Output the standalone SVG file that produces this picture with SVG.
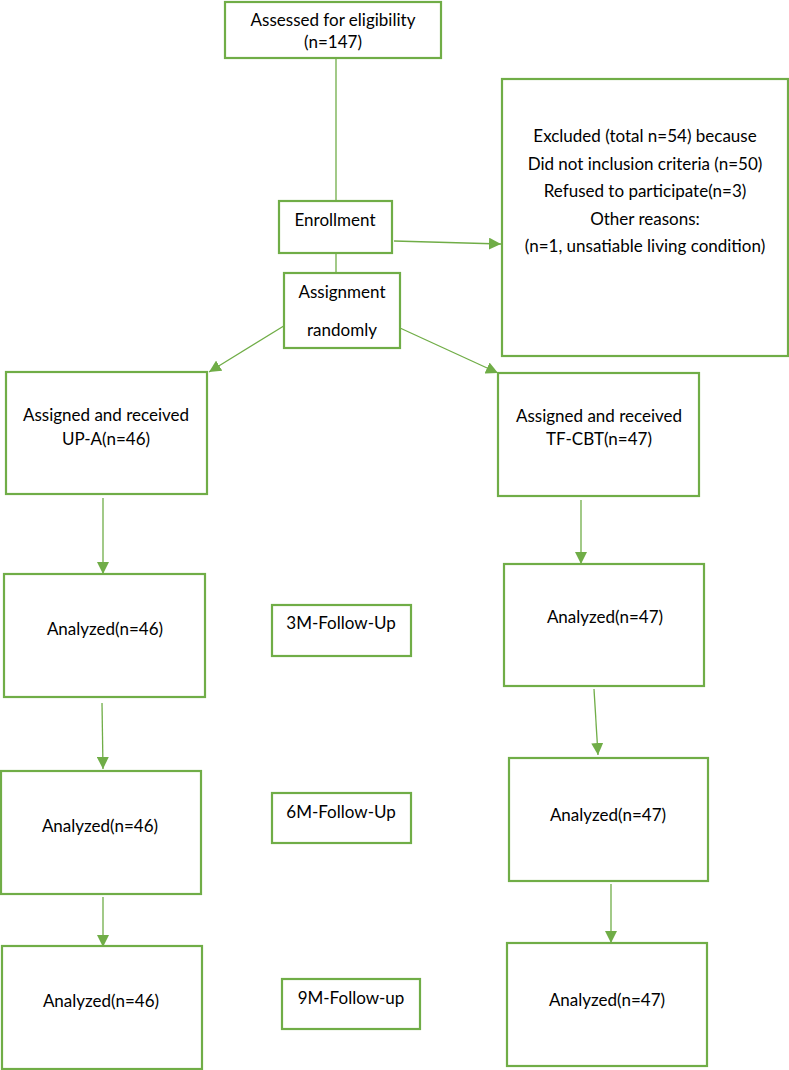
<svg xmlns="http://www.w3.org/2000/svg" width="789" height="1070" viewBox="0 0 789 1070">
<style>
.box{fill:#fff;stroke:#70AD47;stroke-width:2.2}
.t{font-family:Lato,"Liberation Sans",Arial,sans-serif;font-size:17px;fill:#000;text-anchor:middle}
.c{stroke:#70AD47;stroke-width:1.3;fill:none}
.a{marker-end:url(#ah)}
</style>
<defs>
<marker id="ah" markerUnits="userSpaceOnUse" markerWidth="12" markerHeight="12" viewBox="0 0 12 12" refX="12" refY="6" orient="auto">
<path d="M0,0 L12,6 L0,12 z" fill="#70AD47"/>
</marker>
</defs>
<rect width="789" height="1070" fill="#fff"/>
<g id="connectors">
<line class="c" x1="336" y1="58" x2="336" y2="201"/>
<line class="c" x1="336" y1="253" x2="336" y2="273"/>
<line class="c a" x1="394" y1="241" x2="501" y2="244"/>
<line class="c a" x1="287" y1="324" x2="209" y2="372"/>
<line class="c a" x1="400" y1="328" x2="498" y2="373"/>
<line class="c a" x1="103" y1="498" x2="103" y2="574"/>
<line class="c a" x1="102" y1="703" x2="103" y2="769"/>
<line class="c a" x1="103" y1="897" x2="103" y2="947"/>
<line class="c a" x1="581" y1="500" x2="581" y2="564"/>
<line class="c a" x1="594" y1="689" x2="598" y2="755"/>
<line class="c a" x1="611" y1="884" x2="611" y2="943"/>
</g>
<g id="assessed">
<rect class="box" x="225" y="2" width="216" height="56"/>
<text class="t" x="333" y="26">Assessed for eligibility</text>
<text class="t" x="333" y="48">(n=147)</text>
</g>
<g id="enrollment">
<rect class="box" x="279" y="201" width="113" height="52"/>
<text class="t" x="335" y="226">Enrollment</text>
</g>
<g id="assignment">
<rect class="box" x="284" y="273" width="116" height="75"/>
<text class="t" x="342" y="298">Assignment</text>
<text class="t" x="342" y="336">randomly</text>
</g>
<g id="excluded">
<rect class="box" x="502" y="79" width="286" height="277"/>
<text class="t" x="645" y="142">Excluded (total n=54) because</text>
<text class="t" x="645" y="170">Did not inclusion criteria (n=50)</text>
<text class="t" x="645" y="197">Refused to participate(n=3)</text>
<text class="t" x="645" y="225">Other reasons:</text>
<text class="t" x="645" y="252">(n=1, unsatiable living condition)</text>
</g>
<g id="upa">
<rect class="box" x="6" y="372" width="201" height="122"/>
<text class="t" x="106" y="421">Assigned and received</text>
<text class="t" x="106" y="445">UP-A(n=46)</text>
</g>
<g id="tfcbt">
<rect class="box" x="498" y="373" width="201" height="123"/>
<text class="t" x="599" y="422">Assigned and received</text>
<text class="t" x="599" y="445">TF-CBT(n=47)</text>
</g>
<g id="left-analyzed-3m">
<rect class="box" x="4" y="574" width="201" height="123"/>
<text class="t" x="105" y="635">Analyzed(n=46)</text>
</g>
<g id="follow-3m">
<rect class="box" x="272" y="605" width="139" height="51"/>
<text class="t" x="341" y="629">3M-Follow-Up</text>
</g>
<g id="right-analyzed-3m">
<rect class="box" x="504" y="564" width="200" height="122"/>
<text class="t" x="605" y="623">Analyzed(n=47)</text>
</g>
<g id="left-analyzed-6m">
<rect class="box" x="1" y="771" width="200" height="123"/>
<text class="t" x="100" y="832">Analyzed(n=46)</text>
</g>
<g id="follow-6m">
<rect class="box" x="272" y="793" width="139" height="50"/>
<text class="t" x="341" y="818">6M-Follow-Up</text>
</g>
<g id="right-analyzed-6m">
<rect class="box" x="509" y="758" width="199" height="123"/>
<text class="t" x="608" y="821">Analyzed(n=47)</text>
</g>
<g id="left-analyzed-9m">
<rect class="box" x="2" y="946" width="200" height="123"/>
<text class="t" x="101" y="1007">Analyzed(n=46)</text>
</g>
<g id="follow-9m">
<rect class="box" x="282" y="979" width="138" height="50"/>
<text class="t" x="351" y="1004">9M-Follow-up</text>
</g>
<g id="right-analyzed-9m">
<rect class="box" x="507" y="943" width="200" height="123"/>
<text class="t" x="607" y="1006">Analyzed(n=47)</text>
</g>
</svg>
